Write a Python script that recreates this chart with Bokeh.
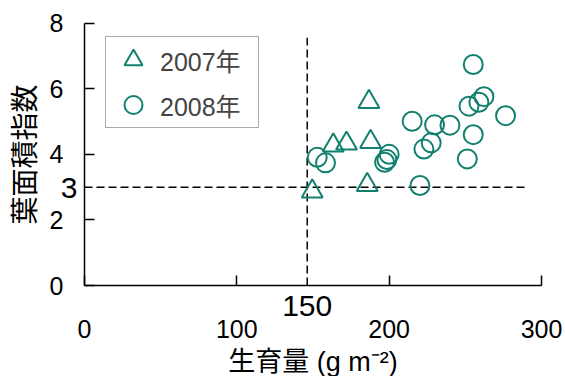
from bokeh.plotting import figure
from bokeh.models import Range1d, Label, Legend, LegendItem, FixedTicker
from bokeh.embed import file_html
from bokeh.resources import INLINE

# data
x2007 = [149.5, 163.3, 172.0, 186.7, 187.8, 185.6]
y2007 = [2.87, 4.27, 4.33, 5.60, 4.38, 3.07]
x2008 = [152.8, 158.2, 197.0, 198.5, 200.0, 215.1, 222.8, 227.6, 229.8, 239.9,
         220.2, 255.2, 252.4, 258.9, 262.2, 255.2, 251.3, 276.4]
y2008 = [3.91, 3.74, 3.76, 3.84, 4.00, 5.01, 4.16, 4.35, 4.90, 4.89,
         3.05, 6.74, 5.47, 5.59, 5.76, 4.60, 3.86, 5.18]
x_ticks = [0, 100, 200, 300]
y_ticks = [0, 2, 4, 6, 8]
x_bounds = (0, 300)
y_bounds = (0, 8)
thr_x = 146.2
thr_x_label = "150"
thr_y = 3.0
thr_y_label = "3"
thr_x_top = 7.56
thr_y_right = 290

GREEN = "#12806f"
FONT = "Liberation Sans, Arial, 'Noto Sans CJK JP'"

W, H = 565, 376
# frame covers whole figure; page px of data 0/300 and 0/8
px0, px300, py0, py8 = 84.0, 541.0, 285.0, 22.7
sx = (px300 - px0) / 300.0
sy = (py0 - py8) / 8.0

p = figure(width=W, height=H, output_backend="svg", toolbar_location=None,
           x_range=Range1d(-px0 / sx, 300 + (W - px300) / sx),
           y_range=Range1d(-(H - py0) / sy, 8 + py8 / sy),
           min_border_left=0, min_border_right=0, min_border_top=0, min_border_bottom=0)
p.outline_line_color = None
p.xgrid.visible = False
p.ygrid.visible = False
p.background_fill_color = "white"
p.border_fill_color = "white"

for ax in (p.xaxis[0], p.yaxis[0]):
    ax.fixed_location = 0
    ax.major_tick_in = 10
    ax.major_tick_out = 0
    ax.minor_tick_line_color = None
    ax.axis_line_width = 1.5
    ax.major_tick_line_width = 1.5
    ax.axis_line_color = "black"
    ax.major_tick_line_color = "black"
    ax.major_label_text_font = FONT
    ax.major_label_text_font_size = "25px"
    ax.major_label_text_color = "black"
    ax.axis_label_text_font = FONT
    ax.axis_label_text_font_style = "normal"
    ax.axis_label_text_color = "black"

p.xaxis.bounds = x_bounds
p.yaxis.bounds = y_bounds
p.xaxis.ticker = FixedTicker(ticks=x_ticks)
p.yaxis.ticker = FixedTicker(ticks=y_ticks)
p.xaxis.major_label_standoff = 34
p.yaxis.major_label_standoff = 21
p.xaxis.axis_label = "生育量 (g m⁻²)"
p.yaxis.axis_label = "葉面積指数"
p.xaxis.axis_label_text_font_size = "27px"
p.yaxis.axis_label_text_font_size = "28px"
p.xaxis.axis_label_standoff = 6
p.yaxis.axis_label_standoff = 6

# dashed threshold lines
p.line([thr_x, thr_x], [0, thr_x_top], line_color="black", line_width=1.5, line_dash="8 4")
p.line([0, thr_y_right], [thr_y, thr_y], line_color="black", line_width=1.5, line_dash="8 4")

r07 = p.scatter(x2007, y2007, marker="triangle", size=21, fill_color=None,
                line_color=GREEN, line_width=2)
r08 = p.scatter(x2008, y2008, marker="circle", size=19, fill_color=None,
                line_color=GREEN, line_width=2)

p.add_layout(Label(x=thr_x, y=0, y_offset=-20, text=thr_x_label, text_align="center",
                   text_baseline="middle", text_font=FONT, text_font_size="30px",
                   text_color="black"))
p.add_layout(Label(x=0, y=thr_y, x_offset=-7, y_offset=-1, text=thr_y_label,
                   text_align="right", text_baseline="middle", text_font=FONT,
                   text_font_size="30px", text_color="black"))

legend = Legend(items=[LegendItem(label="2007年", renderers=[r07]),
                       LegendItem(label="2008年", renderers=[r08])],
                location=(105, H - 128))
legend.label_text_font = FONT
legend.label_text_font_size = "25px"
legend.border_line_color = "#555555"
legend.border_line_width = 1
legend.glyph_width = 54
legend.glyph_height = 45
legend.spacing = 0
legend.padding = 0
legend.margin = 0
legend.label_standoff = 0
legend.label_width = 98
legend.background_fill_alpha = 1
p.add_layout(legend, "center")

open("out.html", "w").write(file_html(p, INLINE))
